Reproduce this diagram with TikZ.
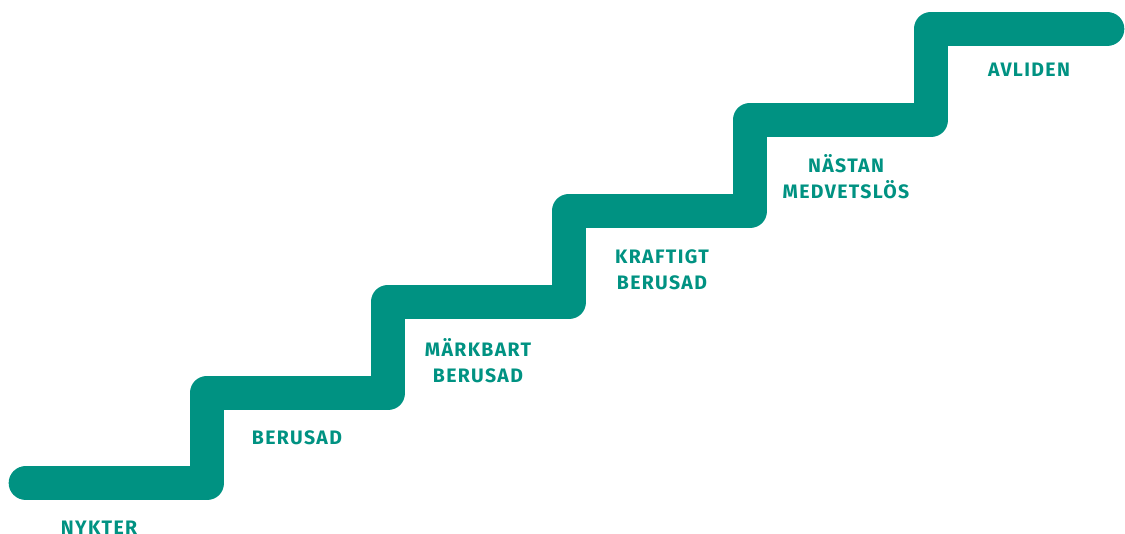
\documentclass[tikz,border=0pt]{standalone}
\usepackage{fontspec}
\setsansfont{Fira Sans}[LetterSpace=7]
\usetikzlibrary{positioning}
\definecolor{stairteal}{RGB}{0,146,130}
\providecommand*{\pgfmathsetnewmacro}[2]{%
    \newcommand*{#1}{}% Error if already defined
    \pgfmathsetmacro{#1}{#2}%
}

\begin{document}
\begin{tikzpicture}[x = 0.75pt, y = -0.75pt,
    stair/.style = {draw = stairteal, line width = 26pt, line cap = round, line join = round},
    steplabel/.style = {text = stairteal, align = center, inner sep = 0pt,
        font = \sffamily\bfseries\fontsize{14.6}{19.5}\selectfont}]
    \useasboundingbox (0,0) rectangle (1125,533);

    %\draw[help lines, opacity = 0.1] (0,0) grid (1125,533);

    \coordinate (S0) at (26,483);
    \coordinate (S1) at (207,393);
    \coordinate (S2) at (388,302);
    \coordinate (S3) at (569,211);
    \coordinate (S4) at (750,120);
    \coordinate (S5) at (931,29);
    \coordinate (S6) at (1107,29);

    \draw[stair] (S0) -| (S1) -| (S2) -| (S3) -| (S4) -| (S5) -- (S6);

    \node (nykter)   [steplabel] at (99,528)  {NYKTER};
    \node (berusad)  [steplabel] at (297,438) {BERUSAD};
    \node (markbart) [steplabel] at (478,361) {MÄRKBART\\BERUSAD};
    \node (kraftigt) [steplabel] at (662,270) {KRAFTIGT\\BERUSAD};
    \node (nastan)   [steplabel] at (846,177) {NÄSTAN\\MEDVETSLÖS};
    \node (avliden)  [steplabel] at (1029,70) {AVLIDEN};

\end{tikzpicture}
\end{document}
